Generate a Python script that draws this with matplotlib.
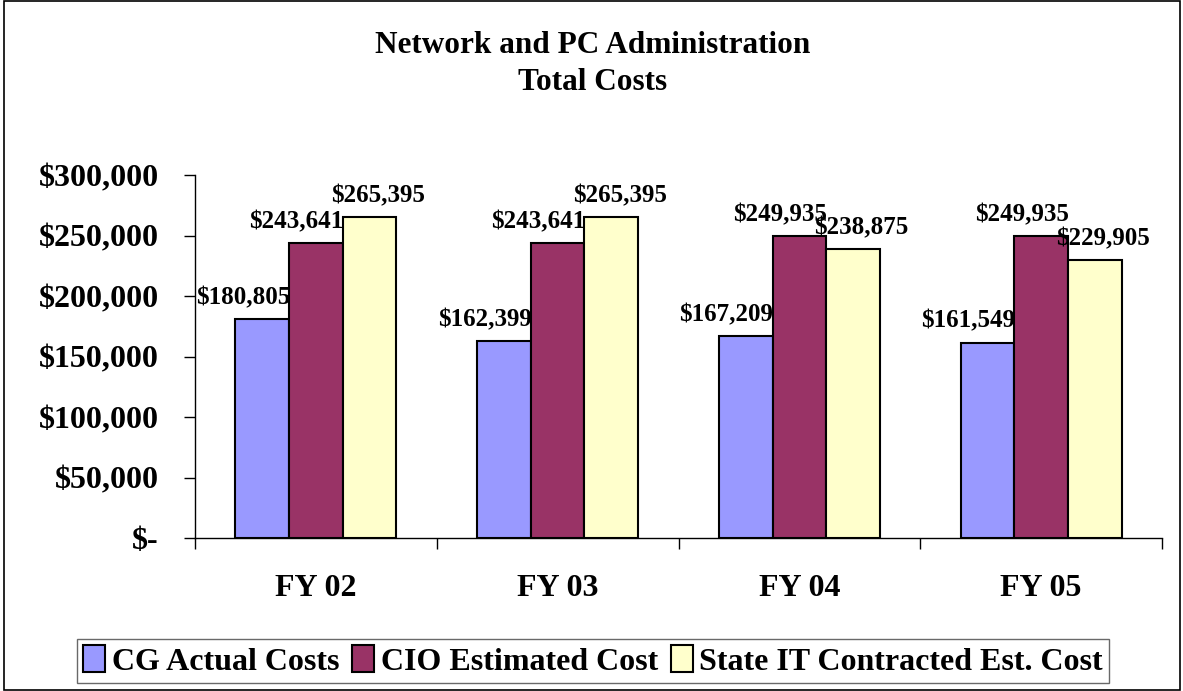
import matplotlib.pyplot as plt
from matplotlib.patches import Rectangle
import numpy as np

categories = ["FY 02", "FY 03", "FY 04", "FY 05"]
series_names = ["CG Actual Costs", "CIO Estimated Cost", "State IT Contracted Est. Cost"]
cg_actual = [180805, 162399, 167209, 161549]
cio_estimated = [243641, 243641, 249935, 249935]
state_it = [265395, 265395, 238875, 229905]
yticks = [0, 50000, 100000, 150000, 200000, 250000, 300000]
ytick_labels = ["$-", "$50,000", "$100,000", "$150,000", "$200,000", "$250,000", "$300,000"]

colors = ["#9999FF", "#993366", "#FFFFCC"]
# horizontal nudge of the value labels (in points), per series
label_dx = [-14, -14, 6]

plt.rcParams['font.family'] = ['Liberation Serif', 'DejaVu Serif']
plt.rcParams['font.weight'] = 'bold'

W, H = 1183, 691
fig = plt.figure(figsize=(W / 100, H / 100), dpi=100)
ax = fig.add_axes([195 / W, (H - 538) / H, (1162 - 195) / W, (538 - 175) / H])

x = np.arange(len(categories))
width = 0.222
all_series = [cg_actual, cio_estimated, state_it]
for i, (vals, name) in enumerate(zip(all_series, series_names)):
    pos = x + (i - 1) * width
    bars = ax.bar(pos, vals, width, color=colors[i], edgecolor="black", linewidth=1.5, label=name)
    for b, v in zip(bars, vals):
        ax.annotate(f"${v:,}", (b.get_x() + b.get_width() / 2, v),
                    xytext=(label_dx[i], 7), textcoords="offset points",
                    ha="center", va="bottom", fontsize=18, fontweight="bold")

ax.set_xlim(-0.5, len(categories) - 0.5)
ax.set_ylim(0, 300000)
ax.set_yticks(yticks)
ax.set_yticklabels(ytick_labels, fontsize=23, fontweight="bold")
ax.set_xticks(np.arange(len(categories) + 1) - 0.5)
ax.set_xticklabels([])
ax.set_xticks(x, minor=True)
ax.set_xticklabels(categories, minor=True, fontsize=23, fontweight="bold")
ax.tick_params(axis="x", which="major", direction="out", length=8, width=1)
ax.tick_params(axis="x", which="minor", length=0, pad=26)
ax.tick_params(axis="y", direction="out", length=8, width=1, pad=18)
for s in ["top", "right"]:
    ax.spines[s].set_visible(False)
for s in ["left", "bottom"]:
    ax.spines[s].set_linewidth(1)

fig.text(593 / W, 1 - 64 / H, "Network and PC Administration\nTotal Costs",
         ha="center", va="center", fontsize=22.5, fontweight="bold", linespacing=1.35)

leg = fig.legend(loc="lower center", bbox_to_anchor=(593 / W, 8 / H), ncol=3,
                 fontsize=23, frameon=True, fancybox=False, edgecolor="#444444",
                 handlelength=0.7, handleheight=0.9, handletextpad=0.2,
                 columnspacing=0.4, borderpad=0.2, borderaxespad=0)
leg.get_frame().set_linewidth(1)
for t in leg.get_texts():
    t.set_fontweight("bold")

fig.patches.append(Rectangle((4 / W, 1 / H), 1176 / W, (H - 2) / H, transform=fig.transFigure,
                             fill=False, edgecolor="black", linewidth=1.2))

fig.savefig("out.png", dpi=100)
